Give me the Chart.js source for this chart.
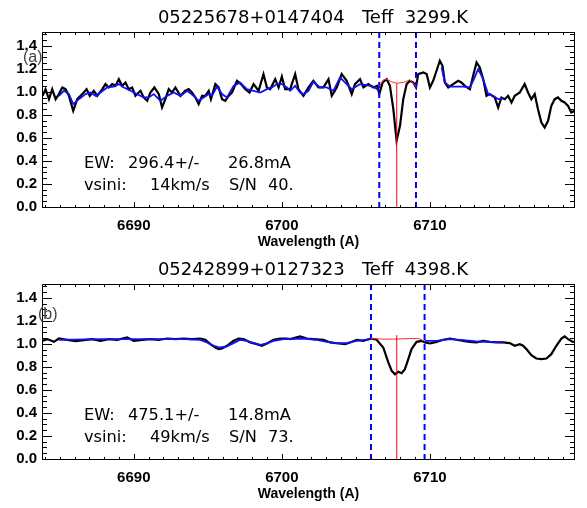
<!DOCTYPE html>
<html>
<head>
<meta charset="utf-8">
<script src="https://cdn.jsdelivr.net/npm/chart.js@4.4.1/dist/chart.umd.min.js"></script>
<style>
  html, body { margin: 0; padding: 0; background: #fff; }
  #wrap { position: relative; width: 587px; height: 508px; }
  canvas { position: absolute; left: 0; }
  #panelA { top: 0; }
  #panelB { top: 252px; }
</style>
</head>
<body>
<div id="wrap">
  <canvas id="panelA" width="587" height="254"></canvas>
  <canvas id="panelB" width="587" height="254"></canvas>
</div>
<script>
// ── axis ranges / ticks ────────────────────────────────────────────
const X_MIN = 6683.8, X_MAX = 6719.8;
const Y_MIN = -0.01, Y_MAX = 1.52;
const X_TICKS = [6690, 6700, 6710];
const Y_TICKS = [0.0, 0.2, 0.4, 0.6, 0.8, 1.0, 1.2, 1.4];
const LI_WAVE = 6707.76;

// ── panel (a): 05225678+0147404 ────────────────────────────────────
const waveA = [6683.84,6684.04,6684.27,6684.49,6684.72,6684.94,6685.17,6685.39,6685.62,6685.91,
  6686.18,6686.52,6686.81,6687.03,6687.30,6687.53,6687.87,6688.09,6688.31,6688.54,
  6688.76,6688.99,6689.21,6689.44,6689.66,6689.89,6690.11,6690.45,6690.67,6690.90,
  6691.12,6691.39,6691.69,6691.91,6692.13,6692.36,6692.58,6692.81,6693.15,6693.48,
  6693.71,6693.93,6694.16,6694.38,6694.61,6694.83,6695.06,6695.21,6695.51,6695.73,
  6695.96,6696.18,6696.40,6696.63,6696.97,6697.24,6697.53,6697.82,6698.09,6698.43,
  6698.76,6698.99,6699.21,6699.55,6699.78,6700.00,6700.22,6700.56,
  6700.90,6701.12,6701.46,6701.80,6702.13,6702.47,6702.81,6703.15,6703.37,6703.71,
  6704.04,6704.38,6704.72,6704.94,6705.28,6705.51,6705.84,6706.18,6706.45,6706.58,
  6706.81,6707.08,6707.30,6707.53,6707.75,6707.98,6708.20,6708.43,6708.65,6708.88,
  6709.06,6709.21,6709.55,6709.78,6710.00,6710.22,6710.45,6710.67,6710.85,6711.01,
  6711.24,6711.57,6711.91,6712.13,6712.36,6712.70,6712.92,6713.15,6713.37,6713.60,
  6713.82,6714.04,6714.38,6714.61,6714.83,6715.06,6715.28,6715.51,6715.73,6716.07,
  6716.40,6716.63,6716.85,6717.08,6717.30,6717.53,6717.75,6717.98,6718.20,6718.43,
  6718.65,6718.88,6719.10,6719.33,6719.55,6719.78];
const fluxA = [0.965,1.023,0.936,1.023,0.936,0.980,1.038,1.023,0.965,0.835,
  0.936,0.980,1.023,0.965,1.009,0.965,1.023,1.067,1.038,1.067,
  1.052,1.110,1.052,1.081,1.023,1.038,0.965,1.009,0.951,0.922,
  0.994,1.038,0.980,0.864,0.936,1.023,0.994,1.038,0.965,1.009,
  1.023,0.994,0.951,0.893,0.965,0.965,1.009,0.936,1.067,1.038,
  0.936,0.922,0.965,0.994,1.096,1.067,1.023,0.994,1.067,1.009,
  1.154,1.038,1.023,1.110,1.038,1.133,1.023,1.023,
  1.154,1.023,0.965,1.038,1.096,1.038,1.038,1.110,0.965,1.038,
  1.154,1.096,0.980,1.067,1.110,1.038,1.067,1.038,1.052,0.980,
  1.081,1.110,1.052,0.849,0.574,0.704,0.936,1.067,1.096,1.081,
  1.038,1.154,1.168,1.154,1.038,1.096,1.183,1.270,1.226,1.081,
  1.038,1.067,1.096,1.081,1.052,1.023,1.139,1.255,1.212,1.110,
  0.965,0.980,0.951,0.864,0.951,0.936,0.965,0.907,0.965,0.994,
  1.067,0.994,0.936,0.980,0.849,0.733,0.690,0.748,0.878,0.936,
  0.951,0.922,0.907,0.878,0.820,0.835];
// 모델 (파란선), null = 끊김
const modelWaveA = [6684.94,6685.28,6685.62,6685.91,6686.29,6686.74,6687.08,6687.42,6687.75,6688.20,
  6688.65,6688.99,6689.33,6689.78,6690.22,6690.67,6691.01,6691.35,6691.80,6692.25,
  6692.70,6693.15,6693.60,6694.04,6694.38,6694.72,6695.06,6695.28,6695.62,6695.96,
  6696.29,6696.74,6697.19,6697.64,6698.09,6698.54,6698.99,6699.33,6699.66,6700.00,
  6700.34,6700.56,6700.90,6701.24,6701.46,6701.80,6702.13,6702.58,6703.03,6703.48,
  6703.93,6704.38,6704.72,6705.28,6705.73,6706.18,6706.58,
  6708.50,
  6710.79,6711.01,6711.35,6711.80,6712.25,6712.70,6712.92,6713.26,6713.60,6713.93,
  6714.27,6714.61,6714.94];
const modelFluxA = [0.965,1.009,0.980,0.893,0.936,0.980,0.994,0.965,0.994,1.038,
  1.046,1.067,1.038,1.009,0.980,0.951,0.951,0.980,0.922,0.965,
  0.994,0.965,1.009,0.965,0.922,0.951,0.980,0.965,1.046,0.980,
  0.951,1.052,1.081,1.023,1.009,0.994,1.023,1.038,1.067,1.067,
  1.038,1.009,1.052,0.994,0.980,1.009,1.087,1.038,1.038,1.009,
  1.125,1.067,1.023,1.067,1.058,1.046,1.009,
  null,
  1.212,1.081,1.046,1.046,1.046,1.038,1.096,1.197,1.110,0.980,
  0.965,0.936,0.942];
const contWaveA = [6706.58,6706.85,6707.08,6707.42,6707.75,6708.20,6708.65,6709.06];
const contFluxA = [1.046,1.104,1.110,1.087,1.075,1.081,1.104,1.046];
const windowA = [6706.58, 6709.06];
const liTopA = 1.075;

// ── panel (b): 05242899+0127323 ────────────────────────────────────
const waveB = [6683.84,6684.16,6684.61,6684.94,6685.51,6686.07,6686.63,6687.19,6687.75,6688.31,
  6688.88,6689.55,6690.00,6690.56,6691.12,6691.69,6692.25,6692.81,6693.37,6693.93,
  6694.49,6694.83,6695.17,6695.51,6695.73,6695.96,6696.29,6696.74,6697.08,6697.42,
  6697.87,6698.31,6698.65,6698.99,6699.44,6699.89,6700.34,6700.56,6701.24,6701.69,
  6702.13,6702.81,6703.26,6703.82,6704.27,6704.61,6705.06,6705.51,6706.02,6706.40,
  6706.85,6707.19,6707.42,6707.64,6707.87,6708.09,6708.31,6708.54,6708.76,6709.10,
  6709.44,6709.66,6710.00,6710.45,6710.90,6711.35,6711.80,6712.25,6712.70,6713.15,
  6713.60,6714.04,6714.49,6714.94,6715.39,6715.73,6716.07,6716.29,6716.52,6716.85,
  6717.19,6717.53,6717.87,6718.20,6718.54,6718.88,6719.10,6719.33,6719.66,6719.84];
const fluxB = [1.026,1.041,1.017,1.046,1.035,1.023,1.032,1.041,1.026,1.041,
  1.035,1.055,1.026,1.035,1.041,1.035,1.046,1.041,1.046,1.041,
  1.046,1.035,0.997,0.968,0.954,0.959,0.983,1.026,1.046,1.041,
  1.012,0.997,0.983,1.003,1.035,1.046,1.046,1.041,1.064,1.046,
  1.041,1.035,1.012,1.003,0.997,1.012,1.035,1.026,1.046,1.035,
  0.968,0.838,0.765,0.736,0.757,0.745,0.780,0.867,0.954,1.017,
  1.026,1.012,1.003,1.017,1.035,1.046,1.035,1.026,1.017,1.012,
  1.026,1.017,1.012,1.012,1.006,0.983,0.997,0.983,0.954,0.901,
  0.872,0.867,0.872,0.910,0.983,1.046,1.064,1.041,1.017,1.017];
const modelWaveB = [6684.94,6687.75,6691.12,6693.37,6694.49,6694.94,6695.39,6695.84,6696.29,6696.74,
  6697.19,6697.64,6698.09,6698.54,6698.99,6699.44,6700.11,6700.56,6701.46,6702.36,
  6703.03,6703.71,6704.38,6705.06,6706.02,
  6708.00,
  6709.64,6710.45,6711.35,6712.25,6713.15,6714.04,6714.94];
const modelFluxB = [1.035,1.041,1.041,1.041,1.035,1.012,0.983,0.968,0.977,1.006,
  1.035,1.026,1.006,0.991,1.003,1.026,1.041,1.041,1.046,1.035,
  1.017,1.006,1.006,1.026,1.041,
  null,
  1.026,1.026,1.041,1.032,1.020,1.017,1.012];
const contWaveB = [6706.02,6706.85,6707.75,6708.65,6709.21,6709.64];
const contFluxB = [1.046,1.041,1.041,1.046,1.046,1.023];
const windowB = [6706.02, 6709.64];
const liTopB = 1.075;

const FONT_TICK = { family: "'Liberation Sans', Arial, sans-serif", size: 15, weight: 'bold' };
const FONT_AXIS = { family: "'Liberation Sans', Arial, sans-serif", size: 14, weight: 'bold' };

// IDL 스타일 프레임 + 안쪽 눈금
const idlFrame = {
  id: 'idlFrame',
  afterDatasetsDraw(chart) {
    const { ctx, chartArea: a, scales: { x, y } } = chart;
    ctx.save();
    ctx.strokeStyle = '#000';
    ctx.lineWidth = 1;
    ctx.beginPath();
    const seg = (x1, y1, x2, y2) => { ctx.moveTo(x1, y1); ctx.lineTo(x2, y2); };
    for (let w = Math.ceil(x.min); w <= x.max; w++) {
      const px = Math.round(x.getPixelForValue(w)) + 0.5;
      const len = w % 10 === 0 ? 6 : 3;
      seg(px, a.bottom, px, a.bottom - len);
      seg(px, a.top, px, a.top + len);
    }
    for (let k = Math.ceil(y.min / 0.05 - 1e-6); k * 0.05 <= y.max; k++) {
      const py = Math.round(y.getPixelForValue(k * 0.05)) + 0.5;
      const len = k % 4 === 0 ? 10 : 5;
      seg(a.left, py, a.left + len, py);
      seg(a.right, py, a.right - len, py);
    }
    ctx.stroke();
    ctx.strokeRect(Math.round(a.left) + 0.5, Math.round(a.top) + 0.5,
      Math.round(a.right - a.left) - 1, Math.round(a.bottom - a.top) - 1);
    ctx.restore();
  },
};

// 제목, 패널 표지, EW / vsini 주석
const idlText = {
  id: 'idlText',
  afterDraw(chart, args, o) {
    const { ctx } = chart;
    ctx.save();
    ctx.textBaseline = 'alphabetic';
    ctx.fillStyle = '#000';
    ctx.textAlign = 'center';
    ctx.font = '18px "DejaVu Sans"';
    ctx.fillText(o.title, 313, 23);

    ctx.textAlign = 'left';
    ctx.fillStyle = '#444';
    ctx.font = '16px "Liberation Sans"';
    ctx.fillText(o.tag[0], o.tag[1], o.tag[2]);

    ctx.fillStyle = '#000';
    ctx.font = '15px "DejaVu Sans"';
    o.notes.forEach(([t, x, yy]) => {
      ctx.save();
      ctx.translate(x, yy);
      ctx.scale(1.08, 1);
      ctx.fillText(t, 0, 0);
      ctx.restore();
    });
    ctx.restore();
  },
};

const toXY = (xs, ys) => xs.map((x, i) => ({ x, y: ys[i] }));

function createPanel(canvasId, p) {
  const line = (data, color, width, order, extra) => Object.assign({
    data, borderColor: color, borderWidth: width, order,
    pointRadius: 0, tension: 0, fill: false, spanGaps: false,
  }, extra || {});

  return new Chart(document.getElementById(canvasId), {
    type: 'line',
    data: {
      datasets: [
        line([{ x: LI_WAVE, y: Y_MIN }, { x: LI_WAVE, y: p.liTop }], '#ff0000', 1, 0),
        line(toXY(p.contWave, p.contFlux), '#ff2a2a', 1, 1),
        line([{ x: p.window[0], y: Y_MIN }, { x: p.window[0], y: Y_MAX }], '#0000ff', 2, 2, { borderDash: [6, 4] }),
        line([{ x: p.window[1], y: Y_MIN }, { x: p.window[1], y: Y_MAX }], '#0000ff', 2, 2, { borderDash: [6, 4] }),
        line(toXY(p.modelWave, p.modelFlux), '#1010ff', 1.8, 3),
        line(toXY(p.wave, p.flux), '#000000', 2.2, 4),
      ],
    },
    options: {
      responsive: false,
      animation: false,
      devicePixelRatio: 1,
      layout: { padding: { top: 32, right: 12, left: 0, bottom: 0 } },
      plugins: {
        legend: { display: false },
        tooltip: { enabled: false },
        idlText: { title: p.title, tag: p.tag, notes: p.notes },
      },
      scales: {
        x: {
          type: 'linear', min: X_MIN, max: X_MAX,
          grid: { display: false, drawTicks: false },
          border: { display: false },
          afterBuildTicks: (s) => { s.ticks = X_TICKS.map(value => ({ value })); },
          afterFit: (s) => { s.height = 46; },
          ticks: { font: FONT_TICK, color: '#000', padding: 9, maxRotation: 0,
                   callback: (v) => String(v) },
          title: { display: true, text: 'Wavelength (A)', font: FONT_AXIS, color: '#000',
                   padding: { top: 0, bottom: 3 } },
        },
        y: {
          type: 'linear', min: Y_MIN, max: Y_MAX,
          grid: { display: false, drawTicks: false },
          border: { display: false },
          afterBuildTicks: (s) => { s.ticks = Y_TICKS.map(value => ({ value })); },
          afterFit: (s) => { s.width = 42; },
          ticks: { font: FONT_TICK, color: '#000', padding: 5,
                   callback: (v) => v.toFixed(1) },
        },
      },
    },
    plugins: [idlFrame, idlText],
  });
}

createPanel('panelA', {
  title: '05225678+0147404   Teff  3299.K',
  tag: ['(a)', 23, 62],
  wave: waveA, flux: fluxA,
  modelWave: modelWaveA, modelFlux: modelFluxA,
  contWave: contWaveA, contFlux: contFluxA,
  window: windowA, liTop: liTopA,
  notes: [['EW:', 84, 168], ['296.4+/-', 128, 168], ['26.8mA', 228, 168],
          ['vsini:', 84, 190], ['14km/s', 150, 190], ['S/N', 229, 190], ['40.', 268, 190]],
});

createPanel('panelB', {
  title: '05242899+0127323   Teff  4398.K',
  tag: ['(b)', 38, 67],
  wave: waveB, flux: fluxB,
  modelWave: modelWaveB, modelFlux: modelFluxB,
  contWave: contWaveB, contFlux: contFluxB,
  window: windowB, liTop: liTopB,
  notes: [['EW:', 84, 168], ['475.1+/-', 128, 168], ['14.8mA', 228, 168],
          ['vsini:', 84, 190], ['49km/s', 150, 190], ['S/N', 229, 190], ['73.', 268, 190]],
});
</script>
</body>
</html>
